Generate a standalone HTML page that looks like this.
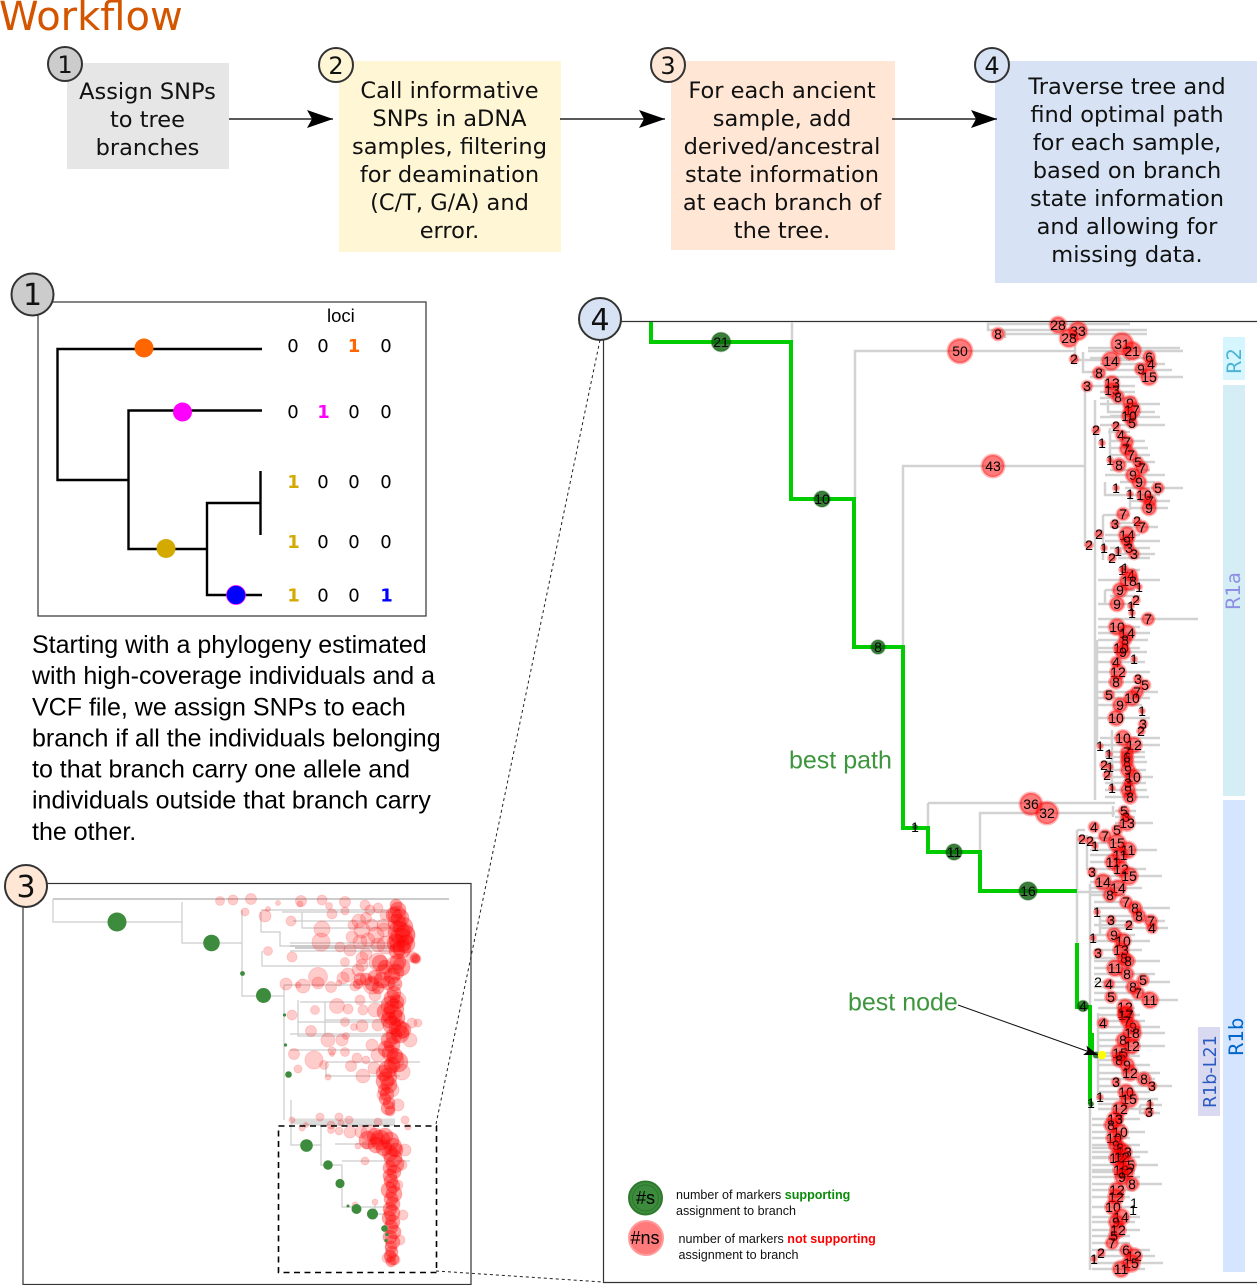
<!DOCTYPE html>
<html><head><meta charset="utf-8"><title>Workflow</title>
<style>
html,body{margin:0;padding:0;background:#fff}
svg{display:block}
.d{font-family:"DejaVu Sans",sans-serif}
.l{font-family:"Liberation Sans",sans-serif}
#n circle{fill:#f00;fill-opacity:.52;stroke:#f00;stroke-opacity:.28;stroke-width:3}
#n text,#g text{font-family:"Liberation Sans",sans-serif;font-size:14px;text-anchor:middle;fill:#000}
#g circle{fill:#0a5c0a;fill-opacity:.8;stroke:#0a5c0a;stroke-opacity:.35;stroke-width:1.5}
#p circle{fill:#f00;fill-opacity:.2;stroke:#f00;stroke-opacity:.14;stroke-width:1}
#q circle{fill:#f00;fill-opacity:.36;stroke:#f00;stroke-opacity:.15;stroke-width:1}
#k text{font-family:"DejaVu Sans",sans-serif;font-size:18px;text-anchor:middle}
</style></head><body>
<svg width="1257" height="1285" viewBox="0 0 1257 1285" xmlns="http://www.w3.org/2000/svg">
<defs><marker id="a" markerUnits="userSpaceOnUse" markerWidth="28" markerHeight="20" refX="26" refY="9" orient="auto"><path d="M0 0L26 9L0 18L5 9Z" fill="#000"/></marker>
<marker id="b" markerUnits="userSpaceOnUse" markerWidth="16" markerHeight="12" refX="14" refY="5" orient="auto"><path d="M0 0L14 5L0 10L3 5Z" fill="#000"/></marker></defs>

<text class="d" x="-1" y="30" font-size="40" fill="#d45500">Workflow</text>
<rect x="67" y="63" width="162" height="106" fill="#e6e6e6"/>
<rect x="339" y="61" width="222" height="191" fill="#fff6d5"/>
<rect x="671" y="61" width="224" height="189" fill="#ffe6d5"/>
<rect x="995" y="61" width="262" height="222" fill="#d7e3f4"/>
<g class="d" font-size="22.5" text-anchor="middle" fill="#111">
<text x="147.500" y="99">Assign SNPs</text><text x="147.500" y="127">to tree</text><text x="147.500" y="155">branches</text>
<text x="449.500" y="98">Call informative</text><text x="449.500" y="126">SNPs in aDNA</text><text x="449.500" y="154">samples, filtering</text><text x="449.500" y="182">for deamination</text><text x="449.500" y="210">(C/T, G/A) and</text><text x="449.500" y="238">error.</text>
<text x="782" y="98">For each ancient</text><text x="782" y="126">sample, add</text><text x="782" y="154">derived/ancestral</text><text x="782" y="182">state information</text><text x="782" y="210">at each branch of</text><text x="782" y="238">the tree.</text>
<text x="1127" y="94">Traverse tree and</text><text x="1127" y="122">find optimal path</text><text x="1127" y="150">for each sample,</text><text x="1127" y="178">based on branch</text><text x="1127" y="206">state information</text><text x="1127" y="234">and allowing for</text><text x="1127" y="262">missing data.</text>
</g>
<g stroke="#222" stroke-width="1.6" fill="none">
<path d="M229 119H333" marker-end="url(#a)"/><path d="M560 119H665" marker-end="url(#a)"/><path d="M892 119H997" marker-end="url(#a)"/></g>

<!-- panel 1 -->
<rect x="38" y="302" width="388" height="314" fill="#fff" stroke="#333" stroke-width="1.2"/>
<g fill="none" stroke="#000" stroke-width="2.4">
<path d="M262 349H57.500V480H128.500"/><path d="M262 410.500H128.500V549H207"/><path d="M262 595H207V503H260.500"/><path d="M260.500 471V535"/></g>
<circle cx="144" cy="348" r="9.500" fill="#f60"/><circle cx="182.500" cy="412" r="9.500" fill="#f0f"/><circle cx="166" cy="548.500" r="9.500" fill="#d4aa00"/><circle cx="236" cy="595" r="9.500" fill="#00f" stroke="#f0f" stroke-width=".7"/>
<text class="l" x="327" y="322" font-size="18.500">loci</text>
<g id="k">
<text x="293" y="352">0</text><text x="323" y="352">0</text><text x="354" y="352" fill="#f60" font-weight="bold">1</text><text x="386" y="352">0</text>
<text x="293" y="418">0</text><text x="323.500" y="418" fill="#f0f" font-weight="bold">1</text><text x="354" y="418">0</text><text x="386" y="418">0</text>
<text x="293.500" y="488" fill="#d4aa00" font-weight="bold">1</text><text x="323" y="488">0</text><text x="354" y="488">0</text><text x="386" y="488">0</text>
<text x="293.500" y="548" fill="#d4aa00" font-weight="bold">1</text><text x="323" y="548">0</text><text x="354" y="548">0</text><text x="386" y="548">0</text>
<text x="293.500" y="601.500" fill="#d4aa00" font-weight="bold">1</text><text x="323" y="601.500">0</text><text x="354" y="601.500">0</text><text x="386.500" y="601.500" fill="#00f" font-weight="bold">1</text>
</g>
<g class="l" font-size="25" fill="#000">
<text x="32" y="653">Starting with a phylogeny estimated</text>
<text x="32" y="684">with high-coverage individuals and a</text>
<text x="32" y="715.500">VCF file, we assign SNPs to each</text>
<text x="32" y="746.500">branch if all the individuals belonging</text>
<text x="32" y="777.500">to that branch carry one allele and</text>
<text x="32" y="808.500">individuals outside that branch carry</text>
<text x="32" y="840">the other.</text>
</g>

<!-- panel 3 -->
<rect x="23" y="883.500" width="448" height="401" fill="#fff" stroke="#333" stroke-width="1.2"/>
<g fill="none" stroke="#ccc" stroke-width="1.200">
<path stroke-width="2" d="M53 899H449"/>
<path d="M53 899V922H182M182 902V943H242M242 910V996H284M242 943V970"/>
<path d="M261 910H400M261 912V932H280V946H400M282 912H400M302 912V928H400M293 921H400M290 943H390M290 951H395M262 951V966H400"/>
<path stroke-width="2" d="M290 946H395M295 948H395"/>
<path d="M284 985V1120M284 985H400M300 1002H400M298 1000V1036H400M298 1022H400M325 1002V1036M325 1020H400M290 1034H400M327 1062H420M326 1062V1076H400M346 1076H400M290 1050H400"/>
<path d="M291 1100V1121"/><path stroke="#ddd" stroke-width="3" d="M291 1120H395M291 1123H395"/>
<path d="M291 1123V1145H321V1165H342V1207H356M321 1125V1146M335 1144H395M342 1161H410M346 1207H395M375 1205V1214H385M386 1214V1262M300 1125H395"/>
</g>
<g id="p">
<circle cx="220" cy="901" r="4.500"/><circle cx="233" cy="900" r="5"/><circle cx="251" cy="899" r="5.500"/><circle cx="278" cy="903" r="2.500"/><circle cx="301" cy="901" r="5.500"/><circle cx="300" cy="904" r="3"/><circle cx="329" cy="906" r="3.500"/><circle cx="322" cy="900" r="5"/><circle cx="345" cy="902" r="5.500"/><circle cx="245" cy="912" r="4"/><circle cx="265" cy="916" r="6"/><circle cx="268" cy="909" r="2.500"/><circle cx="291" cy="921" r="5"/><circle cx="322" cy="929" r="8"/><circle cx="321" cy="942" r="9"/><circle cx="353" cy="925" r="5"/><circle cx="362" cy="930" r="8"/><circle cx="360" cy="942" r="7"/><circle cx="340" cy="947" r="5"/><circle cx="350" cy="950" r="6"/><circle cx="366" cy="954" r="6"/><circle cx="366" cy="918" r="5.500"/><circle cx="345" cy="911" r="4"/><circle cx="332" cy="914" r="5"/><circle cx="268" cy="951" r="4.500"/><circle cx="292" cy="957" r="5"/><circle cx="345" cy="962" r="4.500"/><circle cx="318" cy="977" r="9.500"/><circle cx="318" cy="983" r="6"/><circle cx="286" cy="984" r="6"/><circle cx="303" cy="986" r="7"/><circle cx="331" cy="987" r="5.500"/><circle cx="298" cy="985" r="3"/><circle cx="339" cy="983" r="3"/><circle cx="315" cy="1010" r="4.500"/><circle cx="292" cy="1015" r="5"/><circle cx="337" cy="1006" r="7.500"/><circle cx="348" cy="1009" r="5"/><circle cx="345" cy="1022" r="4.500"/><circle cx="311" cy="1031" r="5.500"/><circle cx="328" cy="1040" r="7"/><circle cx="342" cy="1040" r="6"/><circle cx="346" cy="1036" r="3.500"/><circle cx="294" cy="1054" r="5.500"/><circle cx="314" cy="1060" r="9"/><circle cx="324" cy="1065" r="4.500"/><circle cx="298" cy="1069" r="4"/><circle cx="328" cy="1077" r="3"/><circle cx="332" cy="1051" r="4"/><circle cx="332" cy="1054" r="2.500"/><circle cx="345" cy="1052" r="4.500"/><circle cx="357" cy="1058" r="5"/><circle cx="351" cy="1066" r="5.500"/><circle cx="363" cy="1076" r="7"/><circle cx="366" cy="1060" r="4"/><circle cx="354" cy="1027" r="3.500"/><circle cx="363" cy="1010" r="5"/><circle cx="362" cy="1026" r="6"/><circle cx="360" cy="1000" r="5"/><circle cx="375" cy="995" r="6"/><circle cx="355" cy="986" r="5"/><circle cx="348" cy="975" r="7"/><circle cx="358" cy="970" r="6"/><circle cx="362" cy="965" r="6"/><circle cx="378" cy="962" r="9"/><circle cx="362" cy="958" r="6"/><circle cx="343" cy="978" r="6"/><circle cx="372" cy="985" r="9"/><circle cx="384" cy="972" r="8"/><circle cx="397" cy="915" r="9"/><circle cx="383" cy="925" r="6"/><circle cx="378" cy="908" r="5"/><circle cx="359" cy="921" r="7"/><circle cx="378" cy="945" r="7"/><circle cx="365" cy="905" r="5"/><circle cx="370" cy="910" r="5"/><circle cx="376" cy="935" r="8"/><circle cx="368" cy="940" r="7"/><circle cx="352" cy="937" r="6"/><circle cx="384" cy="930" r="7"/><circle cx="386" cy="945" r="9"/><circle cx="372" cy="925" r="6"/><circle cx="385" cy="915" r="5"/><circle cx="412" cy="957" r="5.500"/><circle cx="416" cy="959" r="5"/><circle cx="403" cy="935" r="12"/><circle cx="400" cy="945" r="10"/><circle cx="395" cy="965" r="9"/><circle cx="398" cy="1000" r="8"/><circle cx="400" cy="1030" r="9"/><circle cx="410" cy="1040" r="7"/><circle cx="412" cy="1023" r="5"/><circle cx="418" cy="1023" r="4"/><circle cx="395" cy="1060" r="9"/><circle cx="402" cy="1072" r="8"/><circle cx="392" cy="1090" r="7"/><circle cx="398" cy="1105" r="6"/><circle cx="375" cy="1010" r="7"/><circle cx="378" cy="1025" r="6"/><circle cx="372" cy="1045" r="6"/><circle cx="378" cy="1055" r="7"/><circle cx="374" cy="1068" r="6"/><circle cx="382" cy="1095" r="5"/><circle cx="339" cy="1117" r="4"/><circle cx="320" cy="1117" r="4"/><circle cx="349" cy="1120" r="4"/><circle cx="292" cy="1120" r="3"/><circle cx="306" cy="1125" r="2.500"/><circle cx="331" cy="1125" r="4"/><circle cx="341" cy="1123" r="3"/><circle cx="378" cy="1122" r="4"/><circle cx="405" cy="1120" r="4"/><circle cx="408" cy="1127" r="3"/><circle cx="339" cy="1131" r="4"/><circle cx="331" cy="1130" r="3.500"/><circle cx="302" cy="1128" r="3"/><circle cx="350" cy="1132" r="6"/><circle cx="361" cy="1132" r="6"/><circle cx="369" cy="1133" r="8"/><circle cx="378" cy="1140" r="7"/><circle cx="366" cy="1145" r="4"/><circle cx="358" cy="1146" r="3"/><circle cx="365" cy="1161" r="4"/><circle cx="375" cy="1202" r="3"/><circle cx="355" cy="1205" r="3"/><circle cx="405" cy="1150" r="6"/><circle cx="402" cy="1165" r="5"/><circle cx="398" cy="1185" r="5"/><circle cx="403" cy="1215" r="5"/><circle cx="400" cy="1240" r="5"/><circle cx="387" cy="1258" r="5"/><circle cx="395" cy="1260" r="5"/>
</g>
<g id="q">
<circle cx="396" cy="905" r="6"/><circle cx="398" cy="910" r="8"/><circle cx="394" cy="915" r="8"/><circle cx="400" cy="918" r="9"/><circle cx="397" cy="923" r="9"/><circle cx="403" cy="927" r="10"/><circle cx="399" cy="932" r="11"/><circle cx="405" cy="935" r="10"/><circle cx="401" cy="940" r="12"/><circle cx="396" cy="943" r="9"/><circle cx="406" cy="944" r="9"/><circle cx="402" cy="949" r="9"/><circle cx="397" cy="951" r="8"/><circle cx="415" cy="958" r="5"/><circle cx="416" cy="959" r="4"/>
<circle cx="380" cy="963" r="8"/><circle cx="385" cy="967" r="7"/><circle cx="398" cy="962" r="8"/><circle cx="401" cy="967" r="9"/><circle cx="396" cy="972" r="8"/><circle cx="392" cy="976" r="8"/><circle cx="375" cy="977" r="7"/><circle cx="382" cy="980" r="8"/><circle cx="366" cy="979" r="6"/><circle cx="372" cy="984" r="7"/><circle cx="360" cy="979" r="6"/><circle cx="388" cy="983" r="7"/><circle cx="378" cy="988" r="6"/><circle cx="395" cy="984" r="7"/><circle cx="358" cy="984" r="5"/>
<circle cx="394" cy="993" r="7"/><circle cx="392" cy="998" r="8"/><circle cx="397" cy="1002" r="7"/><circle cx="390" cy="1005" r="9"/><circle cx="394" cy="1009" r="10"/><circle cx="386" cy="1012" r="9"/><circle cx="392" cy="1015" r="10"/><circle cx="397" cy="1018" r="8"/><circle cx="389" cy="1020" r="8"/><circle cx="392" cy="1025" r="9"/><circle cx="398" cy="1028" r="9"/><circle cx="403" cy="1030" r="8"/><circle cx="400" cy="1034" r="9"/><circle cx="394" cy="1036" r="8"/><circle cx="389" cy="1040" r="8"/><circle cx="392" cy="1045" r="8"/><circle cx="386" cy="1049" r="8"/><circle cx="390" cy="1053" r="8"/><circle cx="395" cy="1056" r="8"/><circle cx="398" cy="1062" r="10"/><circle cx="392" cy="1065" r="8"/><circle cx="388" cy="1069" r="9"/><circle cx="384" cy="1073" r="8"/><circle cx="388" cy="1077" r="9"/><circle cx="385" cy="1081" r="9"/><circle cx="389" cy="1085" r="8"/><circle cx="384" cy="1090" r="6"/><circle cx="387" cy="1094" r="7"/><circle cx="385" cy="1099" r="6"/><circle cx="389" cy="1103" r="6"/><circle cx="388" cy="1108" r="7"/><circle cx="390" cy="1111" r="5"/>
<circle cx="368" cy="1140" r="9"/><circle cx="375" cy="1136" r="8"/><circle cx="380" cy="1140" r="10"/><circle cx="385" cy="1136" r="8"/><circle cx="390" cy="1141" r="9"/><circle cx="376" cy="1145" r="8"/><circle cx="384" cy="1148" r="8"/><circle cx="393" cy="1147" r="9"/><circle cx="390" cy="1153" r="8"/><circle cx="396" cy="1150" r="7"/><circle cx="393" cy="1158" r="9"/><circle cx="395" cy="1164" r="9"/><circle cx="390" cy="1168" r="7"/><circle cx="394" cy="1172" r="7"/><circle cx="390" cy="1176" r="7"/><circle cx="391" cy="1181" r="7"/><circle cx="393" cy="1186" r="7"/><circle cx="389" cy="1190" r="8"/><circle cx="394" cy="1194" r="8"/><circle cx="391" cy="1199" r="7"/><circle cx="393" cy="1204" r="7"/><circle cx="390" cy="1209" r="7"/><circle cx="392" cy="1213" r="8"/><circle cx="389" cy="1218" r="7"/><circle cx="393" cy="1222" r="7"/><circle cx="391" cy="1227" r="7"/><circle cx="394" cy="1232" r="7"/><circle cx="390" cy="1237" r="7"/><circle cx="393" cy="1242" r="7"/><circle cx="391" cy="1247" r="6"/><circle cx="392" cy="1252" r="6"/><circle cx="390" cy="1256" r="6"/><circle cx="393" cy="1259" r="6"/><circle cx="391" cy="1262" r="5"/>
</g>
<g fill="#3d8b3d">
<circle cx="117" cy="922" r="9.500"/><circle cx="211.500" cy="943" r="8.300"/><circle cx="242.500" cy="973.500" r="2.400"/><circle cx="263.500" cy="995.500" r="7.500"/><circle cx="284.500" cy="1015" r="1.600"/><circle cx="285.500" cy="1045" r="1.600"/><circle cx="288.500" cy="1074.500" r="3.300"/><circle cx="306.500" cy="1145.500" r="6.300"/><circle cx="328" cy="1165" r="4.800"/><circle cx="340" cy="1183.500" r="4.600"/><circle cx="348" cy="1206" r="1.500"/><circle cx="356.500" cy="1209" r="5"/><circle cx="372.500" cy="1214" r="5.500"/><circle cx="384.500" cy="1228.500" r="3.300"/><circle cx="387" cy="1234.500" r="1.800"/><circle cx="386" cy="1240.500" r="1.600"/>
</g>
<rect x="278.500" y="1126" width="158" height="146.500" fill="none" stroke="#000" stroke-width="1.600" stroke-dasharray="6 4.500"/>
<path d="M436 1124L600 340M436 1271L603 1282" fill="none" stroke="#222" stroke-width="1" stroke-dasharray="3 3"/>

<!-- panel 4 -->
<path d="M1257 321.500H603.500V1282.500H1257" fill="#fff" stroke="#333" stroke-width="1.200"/>
<rect x="1223" y="337" width="22" height="43" fill="#d5f6ff"/>
<rect x="1223" y="385" width="22" height="411" fill="#d5eef5"/>
<rect x="1223" y="800" width="22" height="472" fill="#d5e5ff"/>
<rect x="1198" y="1027" width="22" height="89" fill="#d9d9f2"/>
<g class="d" font-size="19.500">
<text transform="translate(1241,374) rotate(-90)" fill="#4fb3d4">R2</text>
<text transform="translate(1240,610) rotate(-90)" fill="#8f8fe3">R1a</text>
<text transform="translate(1243,1056) rotate(-90)" fill="#0066cc">R1b</text>
<text transform="translate(1216,1108) rotate(-90)" font-size="17.500" fill="#2a5bc0">R1b-L21</text>
</g>
<g fill="none" stroke="#d2d2d2" stroke-width="2.500">
<path d="M792 322V342M855 499V351H1075M903 647V466H1085M1085 383V546M1095 400V800M1097 640V745M1092 390H1085"/>
<path d="M988 322V330H1147M988 324H1130M1005 334H1147M1005 338V331M1075 345V360H1130M1083 352V372H1100"/>
<path d="M1088 348H1180M1088 351H1183M1090 358H1155M1100 364H1165M1100 370H1172M1090 377H1183M1090 386H1135M1100 392H1135M1100 398H1135M1100 404H1160M1108 400V412H1155M1110 416H1140M1100 417H1160M1100 425H1165"/>
<path d="M1110 428V465M1108 432H1130M1110 441H1145M1110 448H1148M1110 455H1150M1110 462H1155M1110 470H1150M1105 475H1165M1105 482V495H1140M1120 482H1155M1130 490V510M1125 488H1183M1130 495H1160M1130 501H1170M1130 508H1168"/>
<path d="M1103 515H1130M1103 515V560M1110 523H1135M1110 527H1158M1105 535H1140M1105 541H1160M1110 548H1150M1115 554H1155M1118 558H1150M1122 570H1140M1098 580H1160M1105 590H1135M1105 590V604H1135M1110 596H1140M1098 604H1130M1098 619H1198M1098 627H1140M1098 633H1150M1098 640H1148M1098 648H1140M1098 652H1147M1098 662H1145M1098 672H1150"/>
<path d="M1098 682H1135M1098 692H1158M1098 698H1150M1098 705H1142M1098 718H1150M1112 730V790M1100 738H1160M1102 745H1160M1105 752H1145M1105 757H1145M1105 762H1147M1105 770H1146M1105 777H1153M1105 783H1146M1105 790H1147M1105 797H1149"/>
<path d="M928 803V827M928 803H1115M980 852V813H1115M1113 806V817M1115 811H1136M1115 817H1135M1115 823H1153"/>
<path d="M1077 830V945M1077 892H1110M1090 884V1270M1077 830H1085M1087 835V870M1090 838H1110M1090 843H1125M1090 850H1157M1090 855H1130M1090 862H1127M1090 869H1146M1090 876H1162M1090 882H1125M1090 888H1142M1090 895H1125"/>
<path d="M1094 902H1125M1094 908H1170M1100 915V935M1100 916H1150M1100 921H1165M1100 928H1168M1094 925H1130M1094 935H1135M1094 941H1150M1094 950H1142M1094 958H1130M1094 961H1160M1094 968H1130M1094 974H1155M1094 982H1170M1094 987H1140M1094 993H1150M1094 1000H1178"/>
<path d="M1098 1008H1135M1098 1013V1100M1098 1015H1140M1098 1021H1145M1098 1027H1160M1098 1033H1165M1098 1040H1140M1098 1046H1165M1098 1053H1135M1098 1056H1140M1098 1060H1130M1098 1065H1150M1098 1073H1160M1098 1079H1155M1098 1086H1172M1098 1092H1150M1098 1099H1158M1098 1104H1130M1098 1109H1150M1140 1105H1162M1140 1105V1113H1160"/>
<path d="M1092 1119H1140M1092 1125H1125M1092 1132H1145M1092 1138H1130M1092 1145H1140M1092 1148H1130M1092 1152H1148M1092 1158H1130M1092 1157H1140M1092 1165H1158M1092 1170H1135M1092 1172H1130M1092 1177H1140M1092 1184H1162M1092 1190H1135M1092 1197H1130M1092 1207H1135M1092 1217H1140M1092 1222H1135M1092 1230H1140M1092 1236H1130M1092 1243H1130M1092 1250H1150M1092 1256H1155M1092 1263H1163M1092 1269H1145"/>
</g>
<path d="M651 322V342H791V499H854V647H903V828H928V852H980V891H1077M1077 943V1007H1090V1104" fill="none" stroke="#0c0" stroke-width="4"/>
<path d="M1092 1033V1055" stroke="#0c0" stroke-width="4"/>
<g id="g">
<circle cx="721" cy="342" r="9.500"/><text x="721" y="347">21</text>
<circle cx="822" cy="499" r="8"/><text x="822" y="504">10</text>
<circle cx="878" cy="647" r="7"/><text x="878" y="652">8</text>
<circle cx="915" cy="827" r="2.500"/><text x="915" y="832">1</text>
<circle cx="954" cy="852" r="8"/><text x="954" y="857">11</text>
<circle cx="1028" cy="891" r="9"/><text x="1028" y="896">16</text>
<circle cx="1083" cy="1006" r="5.500"/><text x="1083" y="1011">4</text>
<circle cx="1091" cy="1104" r="2.500"/><text x="1091" y="1108">1</text>
<circle cx="1096" cy="1055" r="3"/>
</g>
<g id="n">
<circle cx="993" cy="466" r="11"/><text x="993" y="471">43</text>
<circle cx="1058" cy="325" r="8"/><text x="1058" y="330">28</text><circle cx="1078" cy="331" r="9"/><text x="1078" y="336">33</text><circle cx="1069" cy="338" r="9"/><text x="1069" y="343">28</text><circle cx="998" cy="334" r="6"/><text x="998" y="339">8</text><circle cx="960" cy="351" r="12"/><text x="960" y="356">50</text><circle cx="1122" cy="344" r="11"/><text x="1122" y="349">31</text><circle cx="1132" cy="351" r="9"/><text x="1132" y="356">21</text><circle cx="1111" cy="361" r="9"/><text x="1111" y="366">14</text><circle cx="1149" cy="357" r="6"/><text x="1149" y="362">6</text><circle cx="1151" cy="364" r="5"/><text x="1151" y="369">4</text><circle cx="1141" cy="369" r="6"/><text x="1141" y="374">9</text><circle cx="1149" cy="377" r="8"/><text x="1149" y="382">15</text><circle cx="1099" cy="373" r="6"/><text x="1099" y="378">8</text><circle cx="1074" cy="359" r="4"/><text x="1074" y="364">2</text><circle cx="1087" cy="386" r="5"/><text x="1087" y="391">3</text><circle cx="1112" cy="383" r="7"/><text x="1112" y="388">13</text><circle cx="1112" cy="390" r="7"/><text x="1112" y="395">13</text><circle cx="1118" cy="397" r="6"/><text x="1118" y="402">8</text><circle cx="1130" cy="403" r="7"/><text x="1130" y="408">9</text><circle cx="1132" cy="410" r="8"/><text x="1132" y="415">17</text><circle cx="1129" cy="416" r="7"/><text x="1129" y="421">10</text><circle cx="1132" cy="423" r="5"/><text x="1132" y="428">5</text>
<circle cx="1096" cy="430" r="3.500"/><text x="1096" y="435">2</text><circle cx="1116" cy="426" r="3.500"/><text x="1116" y="431">2</text><circle cx="1102" cy="443" r="2.500"/><text x="1102" y="448">1</text><circle cx="1121" cy="435" r="5"/><text x="1121" y="440">4</text><circle cx="1127" cy="442" r="6"/><text x="1127" y="447">7</text><circle cx="1126" cy="449" r="6"/><text x="1126" y="454">7</text><circle cx="1131" cy="455" r="6"/><text x="1131" y="460">7</text><circle cx="1138" cy="462" r="5"/><text x="1138" y="467">5</text><circle cx="1142" cy="468" r="6"/><text x="1142" y="473">7</text><circle cx="1110" cy="460" r="2.500"/><text x="1110" y="465">1</text><circle cx="1119" cy="465" r="6.500"/><text x="1119" y="470">8</text><circle cx="1133" cy="475" r="7"/><text x="1133" y="480">9</text><circle cx="1139" cy="482" r="7"/><text x="1139" y="487">9</text><circle cx="1158" cy="488" r="5.500"/><text x="1158" y="493">5</text><circle cx="1116" cy="488" r="2.500"/><text x="1116" y="493">1</text><circle cx="1130" cy="494" r="2.500"/><text x="1130" y="499">1</text><circle cx="1144" cy="495" r="7"/><text x="1144" y="500">10</text><circle cx="1150" cy="501" r="6"/><text x="1150" y="506">7</text><circle cx="1149" cy="508" r="7"/><text x="1149" y="513">9</text>
<circle cx="1123" cy="514" r="6"/><text x="1123" y="519">7</text><circle cx="1115" cy="524" r="4"/><text x="1115" y="529">3</text><circle cx="1137" cy="521" r="3.500"/><text x="1137" y="526">2</text><circle cx="1142" cy="527" r="6"/><text x="1142" y="532">7</text><circle cx="1127" cy="535" r="8"/><text x="1127" y="540">14</text><circle cx="1099" cy="534" r="3.500"/><text x="1099" y="539">2</text><circle cx="1089" cy="545" r="3.500"/><text x="1089" y="550">2</text><circle cx="1127" cy="541" r="6"/><text x="1127" y="546">9</text><circle cx="1104" cy="548" r="2.500"/><text x="1104" y="553">1</text><circle cx="1129" cy="548" r="5"/><text x="1129" y="553">3</text><circle cx="1118" cy="551" r="2.500"/><text x="1118" y="556">1</text><circle cx="1134" cy="554" r="5"/><text x="1134" y="559">3</text><circle cx="1112" cy="558" r="3.500"/><text x="1112" y="563">2</text><circle cx="1122" cy="570" r="2.500"/><text x="1122" y="575">1</text><circle cx="1125" cy="568" r="2.500"/><text x="1125" y="573">1</text><circle cx="1131" cy="575" r="6"/><text x="1131" y="580">4</text><circle cx="1129" cy="581" r="9"/><text x="1129" y="586">18</text><circle cx="1139" cy="587" r="2.500"/><text x="1139" y="592">1</text><circle cx="1120" cy="590" r="7"/><text x="1120" y="595">9</text><circle cx="1136" cy="600" r="3.500"/><text x="1136" y="605">2</text><circle cx="1131" cy="606" r="2.500"/><text x="1131" y="611">1</text><circle cx="1132" cy="613" r="2.500"/><text x="1132" y="618">1</text><circle cx="1117" cy="604" r="7"/><text x="1117" y="609">9</text><circle cx="1148" cy="619" r="6"/><text x="1148" y="624">7</text>
<circle cx="1117" cy="627" r="8"/><text x="1117" y="632">10</text><circle cx="1127" cy="633" r="8"/><text x="1127" y="638">14</text><circle cx="1125" cy="640" r="6"/><text x="1125" y="645">8</text><circle cx="1121" cy="648" r="7"/><text x="1121" y="653">10</text><circle cx="1123" cy="652" r="7"/><text x="1123" y="657">9</text><circle cx="1134" cy="659" r="2.500"/><text x="1134" y="664">1</text><circle cx="1116" cy="662" r="5"/><text x="1116" y="667">4</text><circle cx="1118" cy="672" r="7.500"/><text x="1118" y="677">12</text><circle cx="1116" cy="682" r="6.500"/><text x="1116" y="687">8</text><circle cx="1138" cy="679" r="4"/><text x="1138" y="684">3</text><circle cx="1145" cy="685" r="5"/><text x="1145" y="690">5</text><circle cx="1137" cy="692" r="6"/><text x="1137" y="697">7</text><circle cx="1109" cy="695" r="5"/><text x="1109" y="700">5</text><circle cx="1132" cy="698" r="7.500"/><text x="1132" y="703">10</text><circle cx="1120" cy="705" r="7"/><text x="1120" y="710">9</text><circle cx="1142" cy="711" r="2.500"/><text x="1142" y="716">1</text><circle cx="1116" cy="718" r="7.500"/><text x="1116" y="723">10</text><circle cx="1143" cy="724" r="4"/><text x="1143" y="729">3</text><circle cx="1141" cy="731" r="3.500"/><text x="1141" y="736">2</text>
<circle cx="1123" cy="738" r="7.500"/><text x="1123" y="743">10</text><circle cx="1134" cy="745" r="7.500"/><text x="1134" y="750">12</text><circle cx="1100" cy="746" r="2.500"/><text x="1100" y="751">1</text><circle cx="1127" cy="752" r="6"/><text x="1127" y="757">7</text><circle cx="1109" cy="754" r="2.500"/><text x="1109" y="759">1</text><circle cx="1127" cy="757" r="6"/><text x="1127" y="762">6</text><circle cx="1127" cy="762" r="6"/><text x="1127" y="767">8</text><circle cx="1104" cy="765" r="3.500"/><text x="1104" y="770">2</text><circle cx="1110" cy="767" r="2.500"/><text x="1110" y="772">1</text><circle cx="1128" cy="770" r="7"/><text x="1128" y="775">9</text><circle cx="1133" cy="777" r="7.500"/><text x="1133" y="782">10</text><circle cx="1107" cy="775" r="3.500"/><text x="1107" y="780">2</text><circle cx="1128" cy="783" r="4"/><text x="1128" y="788">3</text><circle cx="1112" cy="788" r="2.500"/><text x="1112" y="793">1</text><circle cx="1128" cy="790" r="7"/><text x="1128" y="795">9</text><circle cx="1130" cy="797" r="6.500"/><text x="1130" y="802">8</text>
<circle cx="1031" cy="804" r="11"/><text x="1031" y="809">36</text><circle cx="1047" cy="813" r="11"/><text x="1047" y="818">32</text><circle cx="1124" cy="811" r="5"/><text x="1124" y="816">5</text><circle cx="1126" cy="817" r="4"/><text x="1126" y="822">3</text><circle cx="1127" cy="823" r="7.500"/><text x="1127" y="828">13</text><circle cx="1094" cy="827" r="5"/><text x="1094" y="832">4</text><circle cx="1117" cy="830" r="5"/><text x="1117" y="835">5</text><circle cx="1105" cy="836" r="6"/><text x="1105" y="841">7</text><circle cx="1082" cy="839" r="3.500"/><text x="1082" y="844">2</text><circle cx="1090" cy="841" r="3.500"/><text x="1090" y="846">2</text><circle cx="1095" cy="846" r="2.500"/><text x="1095" y="851">1</text><circle cx="1117" cy="843" r="8.500"/><text x="1117" y="848">15</text><circle cx="1128" cy="850" r="8"/><text x="1128" y="855">11</text><circle cx="1120" cy="855" r="7.500"/><text x="1120" y="860">11</text><circle cx="1113" cy="862" r="7.500"/><text x="1113" y="867">11</text><circle cx="1121" cy="869" r="7.500"/><text x="1121" y="874">12</text><circle cx="1129" cy="876" r="8.500"/><text x="1129" y="881">15</text><circle cx="1092" cy="872" r="4"/><text x="1092" y="877">3</text><circle cx="1103" cy="882" r="8"/><text x="1103" y="887">14</text><circle cx="1118" cy="888" r="8"/><text x="1118" y="893">14</text><circle cx="1110" cy="895" r="6.500"/><text x="1110" y="900">8</text>
<circle cx="1126" cy="902" r="6"/><text x="1126" y="907">7</text><circle cx="1135" cy="908" r="6.500"/><text x="1135" y="913">8</text><circle cx="1139" cy="916" r="6.500"/><text x="1139" y="921">8</text><circle cx="1151" cy="921" r="6"/><text x="1151" y="926">7</text><circle cx="1152" cy="928" r="5"/><text x="1152" y="933">4</text><circle cx="1097" cy="912" r="2.500"/><text x="1097" y="917">1</text><circle cx="1111" cy="920" r="4"/><text x="1111" y="925">3</text><circle cx="1129" cy="925" r="3.500"/><text x="1129" y="930">2</text><circle cx="1114" cy="935" r="7"/><text x="1114" y="940">9</text><circle cx="1093" cy="938" r="2.500"/><text x="1093" y="943">1</text><circle cx="1123" cy="941" r="7.500"/><text x="1123" y="946">10</text><circle cx="1098" cy="953" r="4"/><text x="1098" y="958">3</text><circle cx="1121" cy="950" r="7.500"/><text x="1121" y="955">13</text><circle cx="1124" cy="958" r="6.500"/><text x="1124" y="963">8</text><circle cx="1128" cy="961" r="6.500"/><text x="1128" y="966">8</text><circle cx="1115" cy="968" r="8"/><text x="1115" y="973">11</text><circle cx="1127" cy="974" r="6.500"/><text x="1127" y="979">8</text><text x="1098" y="987">2</text><circle cx="1109" cy="984" r="5"/><text x="1109" y="989">4</text><circle cx="1143" cy="980" r="5.500"/><text x="1143" y="985">5</text><circle cx="1133" cy="987" r="6.500"/><text x="1133" y="992">8</text><circle cx="1138" cy="993" r="6"/><text x="1138" y="998">7</text><circle cx="1111" cy="997" r="5.500"/><text x="1111" y="1002">5</text><circle cx="1150" cy="1000" r="8"/><text x="1150" y="1005">11</text>
<circle cx="1125" cy="1007" r="7.500"/><text x="1125" y="1012">12</text><circle cx="1125" cy="1013" r="7"/><text x="1125" y="1018">12</text><circle cx="1126" cy="1015" r="8"/><text x="1126" y="1020">17</text><circle cx="1127" cy="1021" r="6"/><text x="1127" y="1026">7</text><circle cx="1133" cy="1027" r="7"/><text x="1133" y="1032">9</text><circle cx="1132" cy="1033" r="9"/><text x="1132" y="1038">18</text><circle cx="1103" cy="1023" r="5"/><text x="1103" y="1028">4</text><circle cx="1123" cy="1040" r="6.500"/><text x="1123" y="1045">8</text><circle cx="1132" cy="1046" r="7.500"/><text x="1132" y="1051">12</text><circle cx="1120" cy="1053" r="8.500"/><text x="1120" y="1058">15</text><circle cx="1122" cy="1056" r="5"/><text x="1122" y="1061">5</text><circle cx="1119" cy="1060" r="6.500"/><text x="1119" y="1065">8</text><circle cx="1127" cy="1065" r="7"/><text x="1127" y="1070">9</text><circle cx="1130" cy="1073" r="7.500"/><text x="1130" y="1078">12</text><circle cx="1144" cy="1079" r="6.500"/><text x="1144" y="1084">8</text><circle cx="1152" cy="1086" r="4"/><text x="1152" y="1091">3</text><circle cx="1116" cy="1082" r="4"/><text x="1116" y="1087">3</text><circle cx="1126" cy="1092" r="7.500"/><text x="1126" y="1097">10</text><circle cx="1129" cy="1099" r="8.500"/><text x="1129" y="1104">15</text><circle cx="1100" cy="1097" r="2.500"/><text x="1100" y="1102">1</text><circle cx="1150" cy="1104" r="2.500"/><text x="1150" y="1109">1</text><circle cx="1149" cy="1112" r="4"/><text x="1149" y="1117">3</text><circle cx="1120" cy="1109" r="7.500"/><text x="1120" y="1114">12</text>
<circle cx="1115" cy="1119" r="7.500"/><text x="1115" y="1124">13</text><circle cx="1119" cy="1119" r="4"/><text x="1119" y="1124">3</text><circle cx="1111" cy="1125" r="6.500"/><text x="1111" y="1130">8</text><circle cx="1120" cy="1132" r="7.500"/><text x="1120" y="1137">10</text><circle cx="1114" cy="1138" r="7.500"/><text x="1114" y="1143">10</text><circle cx="1116" cy="1145" r="7"/><text x="1116" y="1150">9</text><circle cx="1120" cy="1148" r="6.500"/><text x="1120" y="1153">8</text><circle cx="1124" cy="1152" r="7.500"/><text x="1124" y="1157">13</text><circle cx="1117" cy="1158" r="7.500"/><text x="1117" y="1163">12</text><circle cx="1122" cy="1157" r="7.500"/><text x="1122" y="1162">12</text><circle cx="1127" cy="1165" r="8.500"/><text x="1127" y="1170">15</text><circle cx="1121" cy="1170" r="7.500"/><text x="1121" y="1175">12</text><circle cx="1126" cy="1172" r="7.500"/><text x="1126" y="1177">12</text><circle cx="1122" cy="1177" r="7"/><text x="1122" y="1182">9</text><circle cx="1132" cy="1184" r="6.500"/><text x="1132" y="1189">8</text><circle cx="1117" cy="1190" r="7.500"/><text x="1117" y="1195">12</text><circle cx="1116" cy="1197" r="7.500"/><text x="1116" y="1202">12</text><circle cx="1113" cy="1207" r="7.500"/><text x="1113" y="1212">10</text><text x="1134" y="1208">1</text><text x="1133" y="1215">1</text><circle cx="1121" cy="1217" r="8"/><text x="1121" y="1222">14</text><circle cx="1116" cy="1222" r="7"/><text x="1116" y="1227">9</text><circle cx="1118" cy="1230" r="7.500"/><text x="1118" y="1235">12</text><circle cx="1114" cy="1236" r="5"/><text x="1114" y="1241">5</text><circle cx="1112" cy="1243" r="6"/><text x="1112" y="1248">7</text><circle cx="1126" cy="1250" r="6"/><text x="1126" y="1255">6</text><circle cx="1134" cy="1256" r="7.500"/><text x="1134" y="1261">12</text><circle cx="1101" cy="1253" r="3.500"/><text x="1101" y="1258">2</text><circle cx="1094" cy="1259" r="2.500"/><text x="1094" y="1264">1</text><circle cx="1131" cy="1263" r="8.500"/><text x="1131" y="1268">15</text><circle cx="1121" cy="1269" r="8"/><text x="1121" y="1274">11</text>
</g>
<circle cx="1102" cy="1055" r="4.300" fill="#ff0"/>
<text class="l" x="789" y="768.500" font-size="25" fill="#3d963d">best path</text>
<text class="l" x="848" y="1010.500" font-size="25" fill="#3d963d">best node</text>
<path d="M958 1005L1098 1055" fill="none" stroke="#111" stroke-width="1" marker-end="url(#b)"/>
<circle cx="645.500" cy="1198" r="16.500" fill="#3d8b3d" stroke="#2d7a2d" stroke-width="2"/>
<circle cx="645.500" cy="1198" r="13" fill="none" stroke="#1f6a1f" stroke-width="1" opacity=".6"/>
<text class="l" x="645.500" y="1204" font-size="18" text-anchor="middle">#s</text>
<circle cx="646" cy="1238" r="17" fill="#ff7a7a" stroke="#ff9c9c" stroke-width="2"/>
<text class="l" x="645" y="1244" font-size="18" text-anchor="middle">#ns</text>
<g class="l" font-size="12.550" fill="#111">
<text x="676" y="1199">number of markers <tspan font-weight="bold" fill="#0a8a0a">supporting</tspan></text>
<text x="676" y="1215">assignment to branch</text>
<text x="678.500" y="1243">number of markers <tspan font-weight="bold" fill="#f00">not supporting</tspan></text>
<text x="678.500" y="1259">assignment to branch</text>
</g>

<!-- badges -->
<g stroke="#333" stroke-width="2">
<circle cx="65" cy="64" r="17" fill="#ccc"/><circle cx="336" cy="65" r="17" fill="#fff6d5"/><circle cx="668" cy="65" r="17" fill="#ffe6d5"/><circle cx="992" cy="65" r="17" fill="#d7e3f4"/>
<circle cx="32.500" cy="294.500" r="21" fill="#ccc"/><circle cx="600" cy="319" r="21" fill="#d7e3f4"/><circle cx="26" cy="886" r="21" fill="#ffe6d5"/>
</g>
<g class="d" text-anchor="middle" fill="#111">
<g font-size="24"><text x="65" y="73">1</text><text x="336" y="74">2</text><text x="668" y="74">3</text><text x="992" y="74">4</text></g>
<g font-size="30"><text x="32.500" y="305">1</text><text x="600" y="330">4</text><text x="26" y="897">3</text></g>
</g>
</svg>
</body></html>
